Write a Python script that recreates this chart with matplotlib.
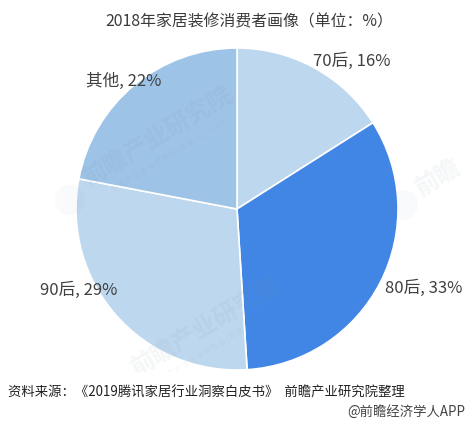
import matplotlib
matplotlib.use("Agg")
import matplotlib.pyplot as plt
from matplotlib.patches import Circle, Rectangle

plt.rcParams['font.family'] = ['Noto Sans CJK SC', 'DejaVu Sans']

categories = ["70后", "80后", "90后", "其他"]
shares = [16, 33, 29, 22]
colors = ["#BDD7EE", "#4186E4", "#BDD7EE", "#9DC3E6"]
label_pos = [(352, 61), (424, 288), (79, 290), (124, 81)]

W, H = 466, 424
fig = plt.figure(figsize=(W / 100, H / 100), dpi=100)
ax = fig.add_axes([0, 0, 1, 1])

# pie drawn in pixel-like data coords, so y is flipped by hand
ax.pie(shares, colors=colors, startangle=90, counterclock=False,
       center=(237, H - 209), radius=161,
       wedgeprops=dict(edgecolor="white", linewidth=1.2))
ax.set_xlim(0, W)
ax.set_ylim(0, H)
ax.set_aspect("equal")
ax.axis("off")

# watermarks
wm_main = [("前瞻产业研究院", 158, 136), ("前瞻产业研究院", 206, 326), ("前瞻", 438, 178)]
wm_sub = [(170, 155), (219, 344)]
for txt, x, y in wm_main:
    ax.text(x, H - y, txt, fontsize=17.5, color="#7f8a99", alpha=0.08,
            rotation=31, ha="center", va="center", fontweight="bold", zorder=5)
for x, y in wm_sub:
    ax.text(x, H - y, "中 国 产 业 咨 询 领 导 者 ( 股 票 : 8 3 9 5 9 9 )", fontsize=5,
            color="#7f8a99", alpha=0.08, rotation=31, ha="center", va="center", zorder=5)
for x, y in [(70, 200), (403, 205)]:
    ax.add_patch(Circle((x, H - y), 15, color="#7f8a99", alpha=0.04, lw=0, zorder=5))

# white band under the pie hides the lower watermark
ax.add_patch(Rectangle((0, 0), W, H - 372, color="white", lw=0, zorder=7))

for cat, val, (x, y) in zip(categories, shares, label_pos):
    ax.text(x, H - y, f"{cat}, {val}%", fontsize=12, color="#404040",
            ha="center", va="center", zorder=6)

ax.text(249, H - 22, "2018年家居装修消费者画像（单位：%）", fontsize=11.4,
        color="#3a3a3a", ha="center", va="center")
ax.text(8, H - 393, "资料来源：《2019腾讯家居行业洞察白皮书》  前瞻产业研究院整理",
        fontsize=9.6, color="#222222", style="italic", ha="left", va="center", zorder=8)
ax.text(465, H - 412, "@前瞻经济学人APP", fontsize=9.6, color="#444444",
        ha="right", va="center", zorder=8)

fig.savefig("out.png", dpi=100)
